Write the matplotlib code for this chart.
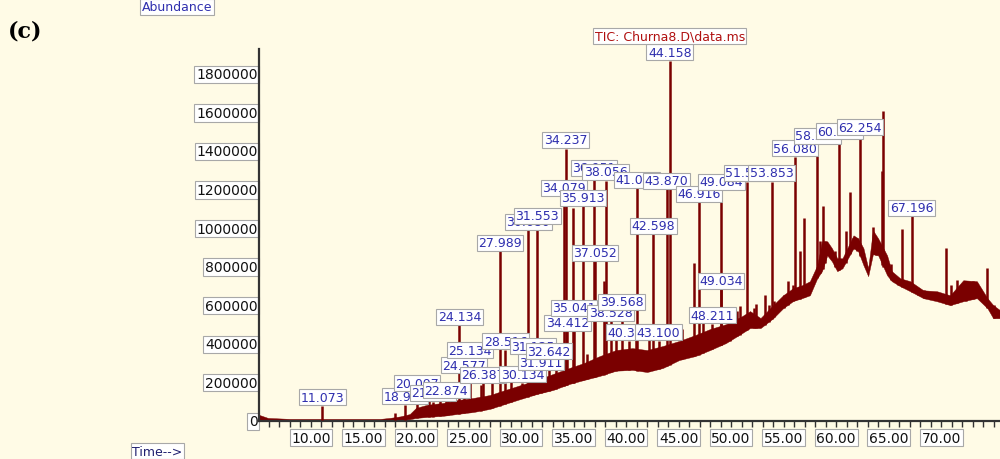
import numpy as np
import matplotlib.pyplot as plt
from matplotlib.ticker import MultipleLocator

# retention time (min) and abundance of the labelled peaks
peak_rt = [11.073, 18.952, 20.097, 21.612, 22.874, 24.134, 24.577, 25.134, 26.387,
           27.989, 28.516, 30.134, 30.680, 31.125, 31.553, 31.911, 32.642, 34.079,
           34.237, 34.412, 35.041, 35.913, 36.951, 37.052, 38.056, 38.528, 39.568,
           40.312, 41.046, 42.598, 43.100, 43.870, 44.158, 46.916, 48.211, 49.034,
           49.084, 51.523, 53.853, 56.080, 58.207, 60.297, 62.254, 67.196]
peak_h = [72000, 78000, 145000, 95000, 110000, 491000, 238000, 316000, 190000,
          874000, 362000, 191000, 983000, 336000, 1014000, 253000, 310000, 1159000,
          1407000, 460000, 538000, 1107000, 1262000, 822000, 1241000, 512000, 569000,
          409000, 1200000, 962000, 409000, 1195000, 1862000, 1128000, 497000, 677000,
          1190000, 1236000, 1236000, 1365000, 1428000, 1453000, 1474000, 1055000]

# unlabelled spikes
minor_rt = [18.0, 21.2, 22.3, 23.0, 26.2, 27.2, 29.0, 32.2, 33.3, 34.95, 36.3, 37.9,
            39.0, 40.9, 42.2, 45.3, 46.48, 47.3, 49.9, 50.8, 52.4, 53.2, 55.4,
            56.95, 58.73, 61.33, 63.55, 64.40, 64.48, 66.30, 70.45, 74.40,
            50.6, 52.2, 53.6, 54.1, 55.0, 55.9, 56.6, 58.5, 58.9, 59.9, 60.9,
            61.6, 62.0, 63.8, 65.2, 65.9, 67.8, 68.4, 70.9, 71.5, 72.4, 73.0, 75.0]
minor_h = [36000, 110000, 125000, 140000, 180000, 200000, 230000, 280000, 300000,
           1100000, 340000, 719000, 420000, 440000, 430000, 470000, 812000, 500000,
           560000, 590000, 600000, 650000, 720000, 1045000, 1107000, 1180000,
           1000000, 1290000, 1600000, 990000, 890000, 786000,
           564000, 579000, 595000, 615000, 646000, 698000, 874000, 926000, 926000,
           874000, 978000, 941000, 941000, 926000, 806000, 734000, 683000, 672000,
           698000, 724000, 708000, 719000, 595000]

# noisy baseline band: time, lower edge, upper edge
base_t = [5.05, 5.9, 8.0, 16.6, 17.5, 18.5, 19.4, 20.0, 21.05, 22.6, 24.0, 25.5,
          27.05, 28.5, 30.0, 31.5, 33.05, 34.6, 36.0, 37.5, 39.05, 40.6, 42.0, 43.5,
          45.05, 46.6, 48.0, 49.5, 51.05, 51.8, 52.8, 54.0, 54.95, 55.9, 56.75, 57.5,
          58.2, 58.65, 59.15, 59.6, 60.1, 60.6, 61.65, 62.1, 62.6, 63.05, 63.5, 64.0,
          64.85, 65.3, 66.1, 67.05, 68.3, 69.6, 70.85, 72.1, 73.4, 74.4, 74.95, 75.6]
base_lo = [0, 0, 0, 0, 0, 0, 3000, 10000, 15000, 21000, 31000, 41000,
           57000, 83000, 109000, 134000, 155000, 186000, 207000, 228000, 255000, 259000,
           248000, 269000, 310000, 331000, 362000, 398000, 450000, 476000, 476000, 527000,
           579000, 616000, 631000, 646000, 735000, 771000, 853000, 822000, 771000, 786000,
           890000, 874000, 802000, 745000, 859000, 853000, 750000, 719000, 693000, 667000,
           631000, 615000, 595000, 615000, 631000, 579000, 527000, 527000]
base_hi = [26000, 10000, 5000, 5000, 10000, 18000, 30000, 62000, 78000, 88000, 103000,
           114000, 129000, 155000, 181000, 207000, 238000, 269000, 295000, 331000, 362000,
           372000, 362000, 383000, 409000, 440000, 471000, 496000, 538000, 564000, 528000,
           595000, 646000, 683000, 698000, 719000, 802000, 926000, 926000, 890000, 838000,
           838000, 957000, 941000, 890000, 786000, 983000, 941000, 853000, 771000, 734000,
           719000, 672000, 667000, 646000, 724000, 719000, 631000, 595000, 569000]

x_ticks = [10, 15, 20, 25, 30, 35, 40, 45, 50, 55, 60, 65, 70]
y_ticks = [0, 200000, 400000, 600000, 800000, 1000000, 1200000, 1400000, 1600000, 1800000]

bg = '#fffbe6'
trace = '#7a0000'
label_blue = '#2f2fae'
box = dict(boxstyle='square,pad=0.12', fc='white', ec='#a8a8a8', lw=0.8)

fig = plt.figure(figsize=(10, 4.6), dpi=100, facecolor=bg)
ax = fig.add_axes([0.259, 0.0826, 0.741, 0.809], facecolor=bg)

ax.fill_between(base_t, base_lo, base_hi, color=trace, lw=0.3, zorder=2)

# spikes start from the bottom of the band
all_rt = np.array(peak_rt + minor_rt)
all_h = np.array(peak_h + minor_h)
foot = np.interp(all_rt, base_t, base_lo)
ax.vlines(all_rt, foot, all_h, color=trace, lw=1.8, zorder=3)

for i, (rt, h) in enumerate(sorted(zip(peak_rt, peak_h))):
    ax.annotate(f'{rt:.3f}', xy=(rt, h), xytext=(0, 1.5), textcoords='offset points',
                ha='center', va='bottom', fontsize=9, color=label_blue,
                bbox=box, zorder=10 + i)

ax.annotate('TIC: Churna8.D\\data.ms', xy=(44.158, 1862000), xytext=(0, 13),
            textcoords='offset points', ha='center', va='bottom', fontsize=9,
            color='#b01010', bbox=box, zorder=100)

ax.set_xlim(5.05, 75.6)
ax.set_ylim(-6000, 1924000)

ax.set_xticks(x_ticks)
ax.set_xticklabels([f'{v:.2f}' for v in x_ticks])
ax.xaxis.set_minor_locator(MultipleLocator(1))
ax.tick_params(axis='x', which='both', direction='out', length=4, width=1,
               color='#333333', labelsize=10, pad=3)
ax.set_yticks(y_ticks)
ax.set_yticklabels([str(v) for v in y_ticks])
ax.tick_params(axis='y', length=0, labelsize=10, pad=1)
for lbl in ax.get_xticklabels() + ax.get_yticklabels():
    lbl.set_bbox(box)
    lbl.set_color('#111111')

for s in ['top', 'right']:
    ax.spines[s].set_visible(False)
for s in ['left', 'bottom']:
    ax.spines[s].set_color('#333333')
    ax.spines[s].set_linewidth(1.6)

fig.text(0.177, 0.997, 'Abundance', ha='center', va='top', fontsize=9,
         color=label_blue, bbox=box)
fig.text(0.132, 0.003, 'Time-->', ha='left', va='bottom', fontsize=9,
         color='#202070', bbox=box)
fig.text(0.008, 0.955, '(c)', ha='left', va='top', fontsize=16,
         fontweight='bold', family='DejaVu Serif')

fig.savefig('out.png', dpi=100, facecolor=bg)
